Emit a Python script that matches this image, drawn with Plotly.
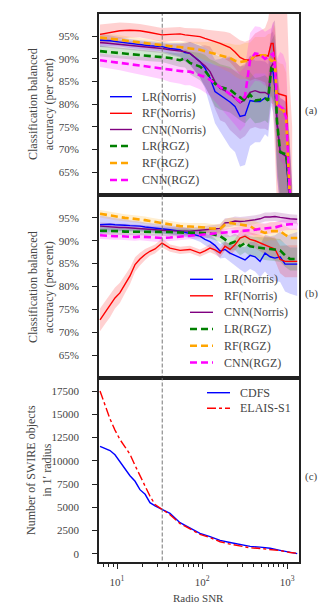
import plotly.graph_objects as go

# ---- data ----
snr_a = [6.31, 8.27, 10.8, 14.2, 18.6, 24.4, 33.8, 42.0, 55.1, 63.0, 72.1, 94.5, 108, 124, 142, 163, 186, 213,
         244, 280, 320, 367, 420, 481, 550, 598, 650, 685, 720, 760, 828, 898, 975, 1058, 1148]

lr_norris_a = [94.1, 94.0, 93.7, 93.4, 93.1, 92.9, 92.7, 92.3, 92.0, 91.4, 91.2, 89.4, 88.0, 85.8, 82.8, 82.0, 81.4,
               80.5, 79.5, 77.3, 77.6, 80.8, 80.6, 80.6, 81.4, 80.8, 87.6, 87.1, 83.5, 76.2, 69.3, 69.0, 68.5, 62, 50]
rf_norris_a = [95.4, 95.8, 96.2, 96.3, 96.2, 95.8, 95.3, 95.4, 95.5, 95.3, 95.2, 94.9, 94.5, 94.2, 93.8, 93.4, 93.0,
               92.5, 91.5, 90.3, 89.8, 89.7, 90.6, 90.8, 90.8, 90.6, 93.4, 93.4, 89.3, 82.5, 82.2, 82.0, 81.8, 62, 50]
cnn_norris_a = [93.6, 93.4, 93.2, 92.9, 92.7, 92.5, 92.3, 92.0, 91.8, 91.6, 91.2, 89.4, 88.5, 87.2, 85.0, 83.5, 83.0,
                82.3, 81.3, 80.3, 81.0, 82.6, 83.0, 82.6, 82.6, 82.2, 88.3, 89.0, 88.5, 76.0, 69.5, 69.0, 68.5, 62, 50]
lr_rgz_a = [91.7, 91.5, 91.3, 91.1, 90.9, 90.7, 90.5, 90.2, 89.7, 90.1, 89.1, 88.3, 87.4, 85.9, 84.5, 83.8, 83.5,
            83.2, 82.3, 81.5, 80.8, 82.1, 80.8, 81.0, 81.4, 80.8, 87.9, 87.7, 87.5, 76.4, 69.5, 69.2, 69.0, 62, 50]
rf_rgz_a = [94.7, 94.5, 94.2, 93.9, 93.6, 93.3, 93.0, 92.8, 92.6, 92.5, 92.3, 92.0, 91.7, 91.5, 91.2, 90.9, 90.5,
            90.2, 89.6, 89.3, 89.5, 89.6, 90.8, 90.8, 90.8, 90.5, 89.6, 89.6, 89.5, 79.5, 79.0, 78.8, 77.0, 62, 50]
cnn_rgz_a = [89.7, 89.4, 89.1, 88.8, 88.5, 88.2, 87.9, 87.5, 87.3, 87.2, 87.2, 86.5, 86.0, 85.4, 84.6, 83.9, 83.2,
             82.3, 81.5, 80.6, 81.8, 89.7, 91.2, 91.0, 90.0, 90.5, 90.8, 91.2, 88.3, 80.0, 79.5, 79.0, 77.0, 60, 50]

lr_norris_a_err = [1.5, 1.2, 1.0, 1.0, 1.0, 1.0, 1.0, 1.2, 1.5, 2, 2.5, 3.5, 4.5, 6, 7, 8, 9, 10, 10, 11, 11, 10, 9,
                   9, 8, 8, 8, 9, 10, 12, 12, 12, 12, 12, 12]
rf_norris_a_err = [2.2, 2.0, 1.8, 1.6, 1.5, 1.5, 1.5, 1.5, 1.5, 1.5, 1.6, 1.8, 2.0, 2.2, 2.5, 2.8, 3.0, 3.2, 3.5,
                   3.8, 4, 4.5, 5, 5.5, 6, 8, 12, 15, 20, 25, 25, 25, 25, 25, 25]
cnn_norris_a_err = [1, 1, 1, 1, 1, 1, 1, 1.2, 1.5, 2, 2.5, 3.5, 4.5, 5.5, 6, 7, 7, 8, 8, 8, 8, 8, 8, 8, 8, 8, 8, 9,
                    10, 12, 12, 12, 12, 12, 12]
lr_rgz_a_err = [1.2, 1.2, 1.2, 1.2, 1.2, 1.2, 1.2, 1.3, 1.5, 2, 2.5, 3, 3.5, 4, 5, 5, 5, 5, 5, 5, 5, 5, 5, 5, 5, 5,
                6, 7, 8, 10, 10, 10, 10, 10, 10]
rf_rgz_a_err = [1, 1, 1, 1, 1, 1, 1, 1, 1.2, 1.3, 1.5, 1.8, 2, 2.2, 2.5, 2.8, 3, 3.2, 3.5, 3.8, 4, 4, 4, 4, 4, 5,
                6, 7, 8, 10, 10, 10, 10, 10, 10]
cnn_rgz_a_err = [1.5, 1.5, 1.6, 1.8, 2, 2.2, 2.4, 2.6, 2.8, 3, 3, 3.2, 3.4, 3.6, 4, 4.5, 5, 5.5, 6, 6.5, 6.5, 6, 6,
                 6, 6, 6, 6, 7, 8, 10, 12, 12, 12, 12, 12]

snr_b = [6.31, 7.23, 8.27, 9.46, 10.8, 12.4, 14.2, 16.3, 18.6, 21.4, 24.4, 28.0, 33.8, 42.0, 55.1, 72.1, 94.5, 108,
         124, 142, 163, 186, 213, 244, 280, 320, 367, 420, 481, 550, 631, 720, 828, 947, 1085, 1315]

lr_norris_b = [93.5, 93.6, 93.6, 93.5, 93.5, 93.4, 93.3, 93.3, 93.2, 93.0, 92.9, 92.7, 92.6, 92.4, 92.1, 91.6, 91.0,
               90.3, 89.8, 89.0, 87.7, 88.1, 87.3, 86.8, 86.2, 85.8, 86.8, 86.5, 85.5, 87.3, 86.5, 86.2, 86.5, 84.9,
               84.9, 84.9]
rf_norris_b = [72.7, 74.3, 75.7, 77.5, 78.6, 80.5, 82.3, 84.8, 86.0, 87.0, 87.7, 88.2, 89.5, 88.4, 87.9, 88.1, 87.3,
               87.8, 88.4, 88.0, 87.3, 88.8, 88.1, 89.1, 90.6, 91.0, 90.3, 90.0, 89.5, 89.0, 88.6, 88.2, 85.9, 85.5,
               85.5, 85.5]
cnn_norris_b = [93.2, 93.1, 93.0, 93.0, 92.9, 92.9, 92.8, 92.8, 92.7, 92.6, 92.5, 92.4, 92.3, 92.2, 92.1, 92.1, 92.3,
                92.4, 92.5, 92.6, 92.7, 93.9, 94.0, 94.3, 94.2, 94.3, 94.4, 94.6, 94.8, 95.2, 95.2, 95.3, 95.1, 94.9,
                94.8, 94.7]
lr_rgz_b = [92.2, 92.2, 92.1, 92.1, 92.1, 92.0, 92.0, 92.0, 92.0, 92.0, 91.9, 91.9, 91.9, 91.9, 91.8, 91.8, 91.7,
            91.7, 91.6, 91.3, 91.0, 90.3, 89.4, 89.8, 88.8, 89.5, 88.8, 88.6, 88.4, 88.3, 88.2, 88.0, 87.9, 86.8,
            86.0, 86.0]
rf_rgz_b = [95.9, 95.7, 95.5, 95.3, 95.2, 95.0, 94.9, 94.8, 94.7, 94.5, 94.3, 94.1, 93.9, 93.6, 93.2, 93.1, 93.0,
            92.9, 92.7, 92.6, 92.6, 93.5, 93.9, 93.7, 93.5, 93.3, 93.2, 92.5, 92.1, 91.7, 92.1, 92.1, 92.1, 91.3,
            90.6, 90.6]
cnn_rgz_b = [91.2, 91.1, 91.1, 91.0, 91.0, 90.9, 90.9, 90.8, 90.9, 90.8, 90.7, 90.6, 90.6, 90.7, 90.9, 91.1, 91.3,
             91.4, 91.5, 91.6, 91.6, 91.7, 91.8, 92.0, 92.1, 92.2, 92.3, 92.4, 92.6, 92.7, 92.8, 92.9, 93.2, 93.5,
             93.6, 93.6]

lr_norris_b_err = [2, 1.8, 1.6, 1.5, 1.4, 1.3, 1.2, 1.1, 1, 1, 1, 1, 1, 1, 1, 1, 1.2, 1.3, 1.4, 1.5, 1.6, 1.8, 2,
                   2.2, 2.5, 2.8, 3, 3.2, 3.5, 4, 4.5, 5, 5.5, 6, 6.5, 7]
rf_norris_b_err = [2.5, 2.5, 2.4, 2.3, 2.2, 2.0, 1.8, 1.6, 1.4, 1.2, 1.0, 1.0, 1.0, 0.8, 0.8, 0.8, 0.8, 0.8, 0.9, 1,
                   1, 1, 1.2, 1.3, 1.5, 1.5, 1.5, 1.6, 1.8, 2, 2.2, 2.5, 3, 3.5, 3.5, 3.5]
cnn_norris_b_err = [0.8] * 20 + [0.9, 1, 1, 1, 1, 1, 1, 1, 1, 1, 1, 1, 1, 1, 1, 1]
lr_rgz_b_err = [0.8] * 16 + [0.9, 1, 1.1, 1.2, 1.3, 1.5, 1.6, 1.8, 2, 2, 2.2, 2.2, 2.4, 2.5, 2.5, 2.5, 2.5, 2.5,
                             2.5, 2.5]
rf_rgz_b_err = [0.8] * 16 + [0.9, 1, 1, 1, 1.1, 1.2, 1.2, 1.3, 1.4, 1.5, 1.6, 1.7, 1.8, 1.9, 2, 2, 2, 2, 2, 2]
cnn_rgz_b_err = [0.8] * 20 + [0.9, 1, 1, 1, 1.1, 1.1, 1.2, 1.2, 1.2, 1.2, 1.2, 1.2, 1.2, 1.2, 1.2, 1.2]

snr_c = [6.31, 7.23, 8.27, 9.46, 10.8, 12.4, 14.2, 16.3, 18.6, 21.4, 24.4, 28.0, 33.8, 42.0, 55.1, 72.1, 94.5, 124,
         163, 213, 280, 367, 481, 631, 828, 1085, 1315]
cdfs = [11550, 11350, 11100, 10650, 9950, 9100, 8400, 7800, 6900, 6400, 5500, 5150, 4800, 4350, 3350, 2750, 2200,
        1850, 1450, 1220, 980, 800, 720, 600, 380, 180, 20]
elais = [17500, 15900, 14500, 13300, 12300, 11500, 10700, 9500, 8400, 7300, 6200, 5300, 4800, 4200, 3250, 2650,
         2100, 1750, 1300, 1050, 830, 650, 580, 500, 350, 150, 60]

snr_cut = 34
acc_ticks = [65, 70, 75, 80, 85, 90, 95]
acc_labels = ["65%", "70%", "75%", "80%", "85%", "90%", "95%"]
count_ticks = [0, 2500, 5000, 7500, 10000, 12500, 15000, 17500]
count_labels = ["0", "2500", "5000", "7500", "10000", "12500", "15000", "17500"]

FONT = "Liberation Serif"
TXT = "#444444"

# the page puts the figure 8px in from the top-left corner, so positions below are
# given in window pixels and shifted into figure space
OFF = 8
W, H = 332 - OFF, 606 - OFF


def px(x):
    return (x - OFF) / W


def py(y):
    return 1 - (y - OFF) / H


fig = go.Figure()

names = ["LR(Norris)", "RF(Norris)", "CNN(Norris)", "LR(RGZ)", "RF(RGZ)", "CNN(RGZ)"]
colours = ["#0000ff", "#ff0000", "#800080", "#008000", "#ffa500", "#ff00ff"]
fills = ["rgba(0,0,255,0.18)", "rgba(255,0,0,0.18)", "rgba(128,0,128,0.18)",
         "rgba(0,128,0,0.18)", "rgba(255,165,0,0.18)", "rgba(255,0,255,0.18)"]
styles = [dict(width=1.4)] * 3 + [dict(width=2.6, dash="7px,4px")] * 3

panels = [
    ("x", "y", snr_a,
     [lr_norris_a, rf_norris_a, cnn_norris_a, lr_rgz_a, rf_rgz_a, cnn_rgz_a],
     [lr_norris_a_err, rf_norris_a_err, cnn_norris_a_err, lr_rgz_a_err, rf_rgz_a_err, cnn_rgz_a_err]),
    ("x2", "y2", snr_b,
     [lr_norris_b, rf_norris_b, cnn_norris_b, lr_rgz_b, rf_rgz_b, cnn_rgz_b],
     [lr_norris_b_err, rf_norris_b_err, cnn_norris_b_err, lr_rgz_b_err, rf_rgz_b_err, cnn_rgz_b_err]),
]

for xa, ya, snr, series, errs in panels:
    # shaded bands first
    for vals, err, fc in zip(series, errs, fills):
        upper = [v + e for v, e in zip(vals, err)]
        lower = [v - e for v, e in zip(vals, err)]
        fig.add_trace(go.Scatter(x=snr + snr[::-1], y=upper + lower[::-1], fill="toself",
                                 fillcolor=fc, line=dict(width=0), mode="lines",
                                 hoverinfo="skip", xaxis=xa, yaxis=ya))
    for vals, name, col, st in zip(series, names, colours, styles):
        fig.add_trace(go.Scatter(x=snr, y=vals, mode="lines", name=name, line=dict(color=col, **st),
                                 xaxis=xa, yaxis=ya))
    fig.add_trace(go.Scatter(x=[snr_cut, snr_cut], y=[40, 110], mode="lines",
                             line=dict(color="#777777", width=1, dash="4px,2px"),
                             hoverinfo="skip", xaxis=xa, yaxis=ya))

fig.add_trace(go.Scatter(x=snr_c, y=cdfs, mode="lines", name="CDFS",
                         line=dict(color="#0000ff", width=1.4), xaxis="x3", yaxis="y3"))
fig.add_trace(go.Scatter(x=snr_c, y=elais, mode="lines", name="ELAIS-S1",
                         line=dict(color="#ff0000", width=1.4, dash="dashdot"), xaxis="x3", yaxis="y3"))
fig.add_trace(go.Scatter(x=[snr_cut, snr_cut], y=[-2000, 20000], mode="lines",
                         line=dict(color="#777777", width=1, dash="4px,2px"),
                         hoverinfo="skip", xaxis="x3", yaxis="y3"))

xdom = [px(99), px(299)]
doms = [[py(195), py(13.5)], [py(378), py(195)], [py(562), py(378)]]
xrange_log = [0.788, 3.14]

frame = dict(showline=True, mirror=True, linecolor="#222222", linewidth=1.8, showgrid=False, zeroline=False)
tickfont = dict(family=FONT, size=11, color=TXT)

minor_vals = [7, 8, 9] + [v * 10 for v in range(2, 10)] + [v * 100 for v in range(2, 10)]

for k, dom in zip(["", "2", "3"], doms):
    xa = dict(type="log", range=xrange_log, domain=xdom, anchor="y" + k, **frame)
    if k == "3":
        xa.update(tickmode="array", tickvals=[10, 100, 1000],
                  ticktext=["10<sup>1</sup>", "10<sup>2</sup>", "10<sup>3</sup>"],
                  ticks="outside", ticklen=5, tickcolor="#222222", tickfont=tickfont,
                  ticklabelstandoff=4,
                  minor=dict(tickmode="array", tickvals=minor_vals, ticks="outside", ticklen=3,
                             tickcolor="#222222"))
    else:
        xa.update(showticklabels=False, ticks="", matches="x3")
    fig.layout["xaxis" + k] = xa
    if k == "3":
        ya = dict(range=[-875, 18900], tickmode="array", tickvals=count_ticks, ticktext=count_labels)
    else:
        ya = dict(range=[60, 100], tickmode="array", tickvals=acc_ticks, ticktext=acc_labels)
    ya.update(domain=dom, anchor="x" + k, ticks="outside", ticklen=5, tickcolor="#222222",
              tickfont=tickfont, ticklabelstandoff=11, **frame)
    fig.layout["yaxis" + k] = ya

# legends drawn as short line samples plus text, with matplotlib-like spacing
legends = [
    (110, 132, 140, [96.7, 113.3, 129.5, 146, 163, 180], names, colours, styles),
    (190, 213, 222, [279.3, 295.8, 312.3, 329, 345.8, 362.5], names, colours, styles),
    (207, 230, 238, [392.7, 408.3], ["CDFS", "ELAIS-S1"], ["#0000ff", "#ff0000"],
     [dict(width=1.4), dict(width=1.4, dash="dashdot")]),
]

shapes = []
annotations = []
for x0, x1, xt, ys, labels, cols, sts in legends:
    for yy, lab, col, st in zip(ys, labels, cols, sts):
        shapes.append(dict(type="line", xref="paper", yref="paper", x0=px(x0), x1=px(x1),
                           y0=py(yy), y1=py(yy), line=dict(color=col, **st)))
        annotations.append(dict(text=lab, x=px(xt), y=py(yy), xref="paper", yref="paper",
                                xanchor="left", yanchor="middle", showarrow=False,
                                font=dict(family=FONT, size=12, color=TXT)))

side_text = [
    ("Classification balanced<br>accuracy (per cent)", 41, 104, -90),
    ("Classification balanced<br>accuracy (per cent)", 41, 287, -90),
    ("Number of SWIRE objects<br>in 1\u2032 radius", 39, 470, -90),
    ("(a)", 311, 110, 0),
    ("(b)", 311, 293, 0),
    ("(c)", 311, 476, 0),
    ("Radio SNR", 199, 598, 0),
]
for txt, x, y, ang in side_text:
    annotations.append(dict(text=txt, x=px(x), y=py(y), xref="paper", yref="paper", showarrow=False,
                            xanchor="center", yanchor="middle", textangle=ang,
                            font=dict(family=FONT, size=12 if ang else 11, color=TXT)))

fig.update_layout(
    width=W, height=H,
    margin=dict(l=0, r=0, t=0, b=0),
    paper_bgcolor="white", plot_bgcolor="white",
    showlegend=False,
    shapes=shapes,
    annotations=annotations,
)

fig.write_html("out.html")
